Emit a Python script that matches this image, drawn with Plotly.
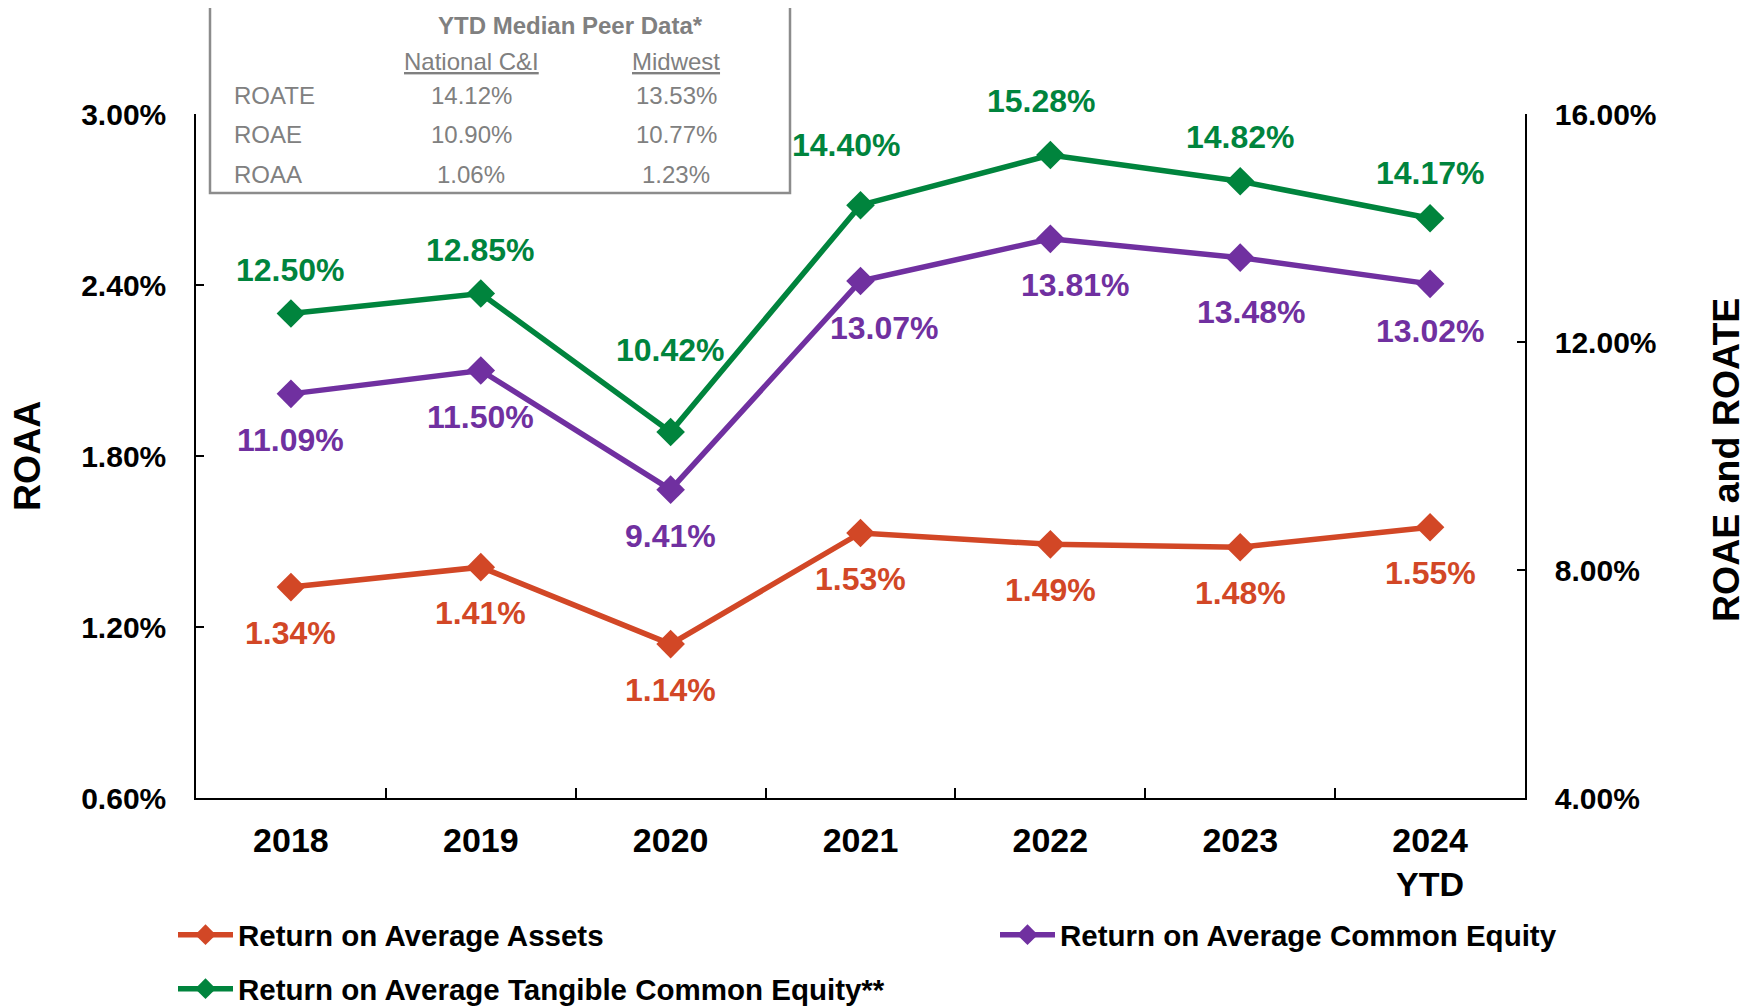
import plotly.graph_objects as go

# ---------------- data ----------------
categories = ["2018", "2019", "2020", "2021", "2022", "2023", "2024 YTD"]
tick_labels = ["2018", "2019", "2020", "2021", "2022", "2023", "2024<br>YTD"]
roaa = [1.34, 1.41, 1.14, 1.53, 1.49, 1.48, 1.55]
roae = [11.09, 11.50, 9.41, 13.07, 13.81, 13.48, 13.02]
roate = [12.50, 12.85, 10.42, 14.40, 15.28, 14.82, 14.17]

series_names = [
    "Return on Average Assets",
    "Return on Average Common Equity",
    "Return on Average Tangible Common Equity**",
]

peer_title = "YTD Median Peer Data*"
peer_columns = ["National C&I", "Midwest"]
peer_rows = ["ROATE", "ROAE", "ROAA"]
peer_national = ["14.12%", "10.90%", "1.06%"]
peer_midwest = ["13.53%", "10.77%", "1.23%"]

# ---------------- styling ----------------
FONT = "Liberation Sans, Arial, sans-serif"
C_ROAA = "#D24726"
C_ROAE = "#7030A0"
C_ROATE = "#00843D"
GRAY = "#808080"

# label offsets (pixels) relative to each marker, as placed in the original
roaa_lbl_dy = [-46, -46, -46, -46, -46, -46, -46]
roaa_lbl_dx = [0, 0, 0, 0, 0, 0, 0]
roae_lbl_dy = [-46, -46, -46, -47, -46, -54, -47]
roae_lbl_dx = [0, 0, 0, 24, 25, 11, 0]
roate_lbl_dy = [44, 44, 82, 60, 54, 44, 45]
roate_lbl_dx = [0, 0, 0, -14, -9, 0, 0]

W, H = 1750, 1008
OFF = 8
L, R, T, B = 196 - OFF, 1525 - OFF, 114 - OFF, 798 - OFF


def px2x(px):
    return (px - OFF - L) / (R - L)


def py2y(py):
    return (B - (py - OFF)) / (B - T)


fig = go.Figure()

specs = [
    (roaa, C_ROAA, "y", "legend"),
    (roae, C_ROAE, "y2", "legend2"),
    (roate, C_ROATE, "y2", "legend3"),
]
for (vals, col, yax, leg), name in zip(specs, series_names):
    fig.add_trace(go.Scatter(
        x=categories, y=vals, name=name, yaxis=yax, legend=leg,
        mode="lines+markers",
        line=dict(color=col, width=5.5),
        marker=dict(symbol="diamond", size=22, color=col),
        hoverinfo="skip",
    ))

annotations = []
label_specs = [
    (roaa, C_ROAA, "y", roaa_lbl_dy, roaa_lbl_dx),
    (roae, C_ROAE, "y2", roae_lbl_dy, roae_lbl_dx),
    (roate, C_ROATE, "y2", roate_lbl_dy, roate_lbl_dx),
]
for vals, col, yref, dys, dxs in label_specs:
    for i, (v, dy, dx) in enumerate(zip(vals, dys, dxs)):
        annotations.append(dict(
            x=i, y=v, xref="x", yref=yref, text=f"{v:.2f}%",
            showarrow=False, yshift=dy, xshift=dx,
            xanchor="center", yanchor="middle",
            font=dict(family=FONT, size=32, color=col, weight="bold"),
        ))

# axis titles
annotations.append(dict(
    x=px2x(27), y=py2y(456), xref="paper", yref="paper", text="ROAA",
    textangle=-90, showarrow=False, xanchor="center", yanchor="middle",
    font=dict(family=FONT, size=37.5, color="black", weight="bold"),
))
annotations.append(dict(
    x=px2x(1726), y=py2y(460), xref="paper", yref="paper", text="ROAE and ROATE",
    textangle=-90, showarrow=False, xanchor="center", yanchor="middle",
    font=dict(family=FONT, size=37.5, color="black", weight="bold"),
))

# peer table
tfont = dict(family=FONT, size=24, color=GRAY)
annotations.append(dict(
    x=px2x(570), y=py2y(26), xref="paper", yref="paper", text=peer_title,
    showarrow=False, xanchor="center", yanchor="middle",
    font=dict(family=FONT, size=24, color=GRAY, weight="bold"),
))
for colname, cx in zip(peer_columns, [471, 676]):
    annotations.append(dict(
        x=px2x(cx), y=py2y(61), xref="paper", yref="paper",
        text=f"<u>{colname}</u>", showarrow=False,
        xanchor="center", yanchor="middle", font=tfont,
    ))
for rname, nv, mv, ry in zip(peer_rows, peer_national, peer_midwest, [96, 135, 174]):
    annotations.append(dict(
        x=px2x(232), y=py2y(ry), xref="paper", yref="paper", text=rname,
        xanchor="left", yanchor="middle", showarrow=False, font=tfont,
    ))
    annotations.append(dict(
        x=px2x(471), y=py2y(ry), xref="paper", yref="paper", text=nv,
        xanchor="center", yanchor="middle", showarrow=False, font=tfont,
    ))
    annotations.append(dict(
        x=px2x(676), y=py2y(ry), xref="paper", yref="paper", text=mv,
        xanchor="center", yanchor="middle", showarrow=False, font=tfont,
    ))

shapes = [dict(
    type="rect", xref="paper", yref="paper",
    x0=px2x(210), x1=px2x(790), y0=py2y(6), y1=py2y(193),
    line=dict(color="#8C8C8C", width=2.5), fillcolor="white", layer="above",
)]

ytickfont = dict(family=FONT, size=30, color="black", weight="bold")
xtickfont = dict(family=FONT, size=34, color="black", weight="bold")
legfont = dict(family=FONT, size=29.5, color="black", weight="bold")

fig.update_layout(
    width=W, height=H,
    margin=dict(l=L, r=W - R, t=T, b=H - B, autoexpand=False),
    paper_bgcolor="white", plot_bgcolor="white",
    showlegend=True,
    xaxis=dict(
        type="category", range=[-0.5, 6.5],
        tickvals=categories, ticktext=tick_labels, tickangle=0,
        tickson="boundaries", ticks="inside", ticklen=10, tickwidth=1.5,
        tickcolor="black", showline=True, linecolor="black", linewidth=2,
        showgrid=False, zeroline=False, tickfont=xtickfont,
        ticklabelstandoff=11, automargin=False,
    ),
    yaxis=dict(
        range=[0.6, 3.0], dtick=0.6, tick0=0.6, tickformat=".2f", ticksuffix="%",
        ticks="inside", ticklen=8, tickwidth=1.5, tickcolor="black",
        showline=True, linecolor="black", linewidth=1.5,
        showgrid=False, zeroline=False, tickfont=ytickfont,
        ticklabelstandoff=22, automargin=False,
    ),
    yaxis2=dict(
        range=[4, 16], dtick=4, tick0=4, tickformat=".2f", ticksuffix="%",
        overlaying="y", side="right",
        ticks="inside", ticklen=8, tickwidth=1.5, tickcolor="black",
        showline=True, linecolor="black", linewidth=1.5,
        showgrid=False, zeroline=False, tickfont=ytickfont,
        ticklabelstandoff=22, automargin=False,
    ),
    legend=dict(x=165 / W, y=1 - 927 / H, xref="container", yref="container",
                xanchor="left", yanchor="middle", font=legfont,
                bgcolor="rgba(0,0,0,0)", itemwidth=55),
    legend2=dict(x=987 / W, y=1 - 927 / H, xref="container", yref="container",
                 xanchor="left", yanchor="middle", font=legfont,
                 bgcolor="rgba(0,0,0,0)", itemwidth=55),
    legend3=dict(x=165 / W, y=1 - 981 / H, xref="container", yref="container",
                 xanchor="left", yanchor="middle", font=legfont,
                 bgcolor="rgba(0,0,0,0)", itemwidth=55),
    annotations=annotations,
    shapes=shapes,
    hovermode=False,
)

fig.write_html("out.html")
